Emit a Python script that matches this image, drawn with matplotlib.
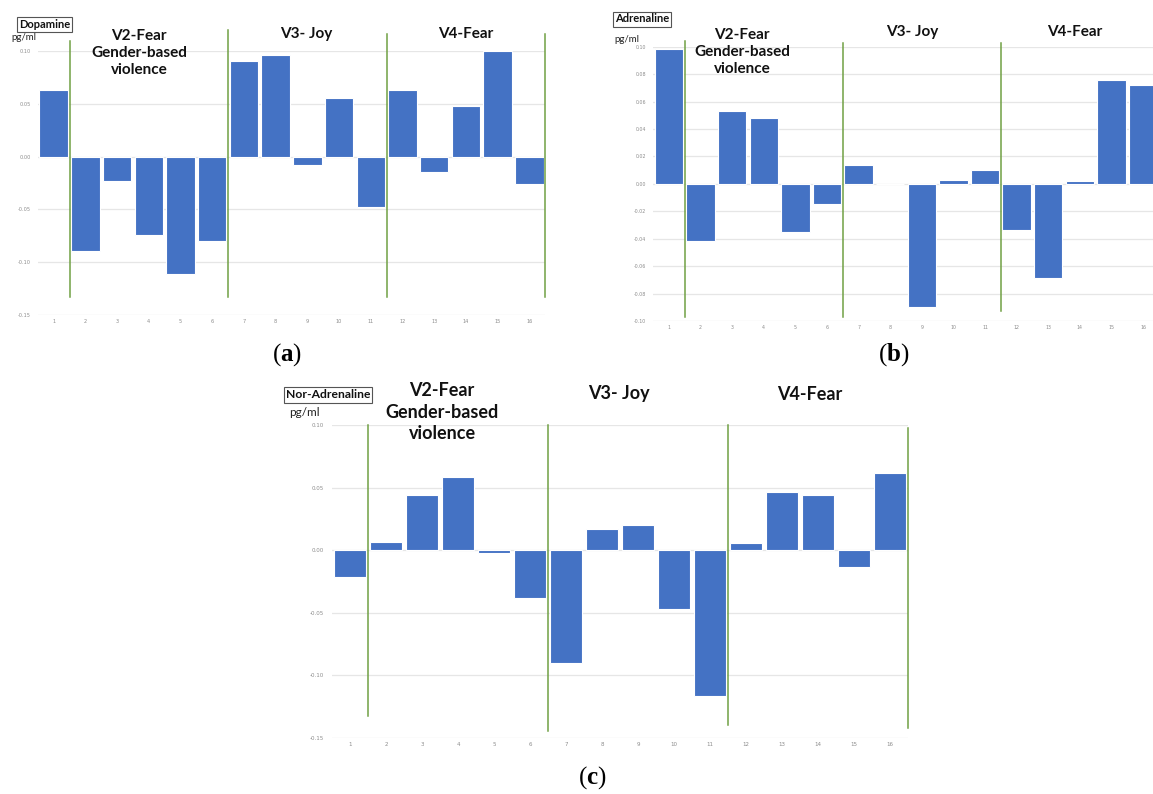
import matplotlib
matplotlib.use("Agg")
import matplotlib.pyplot as plt
import numpy as np

plt.rcParams["mathtext.fontset"] = "custom"
plt.rcParams["mathtext.bf"] = "Liberation Serif:bold"
plt.rcParams["mathtext.rm"] = "Liberation Serif"

W, H = 1153, 794

categories = list(range(1, 17))
dopamine = [0.063, -0.089, -0.023, -0.074, -0.111, -0.080, 0.090, 0.096,
            -0.008, 0.055, -0.048, 0.063, -0.015, 0.048, 0.100, -0.026]
adrenaline = [0.098, -0.042, 0.053, 0.048, -0.035, -0.015, 0.014, 0.0,
              -0.090, 0.003, 0.010, -0.034, -0.069, 0.002, 0.076, 0.072]
noradrenaline = [-0.021, 0.007, 0.044, 0.059, -0.002, -0.038, -0.090, 0.017,
                 0.020, -0.047, -0.117, 0.006, 0.047, 0.044, -0.013, 0.062]

phase_labels = ["V2-Fear\nGender-based\nviolence", "V3- Joy", "V4-Fear"]
sep_x = [1.5, 6.5, 11.5, 16.5]
# separator line extents (bottom, top) per panel
sep_a = [(-0.133, 0.109), (-0.133, 0.120), (-0.133, 0.116), (-0.133, 0.116)]
sep_b = [(-0.097, 0.104), (-0.097, 0.103), (-0.093, 0.103), (-0.093, 0.103)]
sep_c = [(-0.133, 0.100), (-0.145, 0.100), (-0.140, 0.100), (-0.142, 0.098)]

yt_a = [-0.15, -0.10, -0.05, 0.00, 0.05, 0.10]
yt_b = [-0.10, -0.08, -0.06, -0.04, -0.02, 0.00, 0.02, 0.04, 0.06, 0.08, 0.10]
yt_c = [-0.15, -0.10, -0.05, 0.00, 0.05, 0.10]

BAR = "#4472C4"
GREEN = "#70A044"
GRID = "#E6E6E6"
TICK = "#8C8C8C"

fig = plt.figure(figsize=(W / 100, H / 100), dpi=100)
fig.patch.set_facecolor("white")


def rect(x0, y0, x1, y1):
    return [x0 / W, 1 - y1 / H, (x1 - x0) / W, (y1 - y0) / H]


def fx(x, y):
    return x / W, 1 - y / H


def make_panel(box, values, yticks, seps, tickfs, ypad):
    ax = fig.add_axes(box)
    ax.set_facecolor("none")
    ax.bar(categories, values, width=0.9, color=BAR, edgecolor="white",
           linewidth=0.8, zorder=3)
    ax.set_xlim(0.5, 16.5)
    ax.set_ylim(yticks[0], yticks[-1])
    ax.set_yticks(yticks)
    ax.set_yticklabels([f"{t:.2f}" for t in yticks])
    ax.set_xticks(categories)
    ax.set_xticklabels([str(c) for c in categories])
    ax.grid(axis="y", color=GRID, linewidth=0.9, zorder=0)
    ax.set_axisbelow(True)
    for s in ax.spines.values():
        s.set_visible(False)
    ax.tick_params(axis="both", length=0, labelsize=tickfs, colors=TICK)
    ax.tick_params(axis="y", pad=ypad)
    ax.tick_params(axis="x", pad=3)
    for xs, (lo, hi) in zip(sep_x, seps):
        ax.plot([xs, xs], [lo, hi], color=GREEN, linewidth=1.1,
                clip_on=False, zorder=4)
    return ax


# Panel (a)
make_panel(rect(37.8, 50.7, 545.2, 315.3), dopamine, yt_a, sep_a, 3.6, 5)
# Panel (b)
make_panel(rect(653.2, 46.7, 1158.8, 321.0), adrenaline, yt_b, sep_b, 3.4, 5)
# Panel (c)
make_panel(rect(332.0, 425.3, 908.0, 737.7), noradrenaline, yt_c, sep_c, 4.0, 6)

hdr = dict(family="Lato", weight="bold", color="#111111", ha="center",
           va="center")

# headers (a)
fig.text(*fx(139, 53), phase_labels[0], fontsize=11, linespacing=1.3, **hdr)
fig.text(*fx(306, 34), phase_labels[1], fontsize=11, **hdr)
fig.text(*fx(466, 34), phase_labels[2], fontsize=11, **hdr)
# headers (b)
fig.text(*fx(742, 52), phase_labels[0], fontsize=11, linespacing=1.3, **hdr)
fig.text(*fx(912, 32), phase_labels[1], fontsize=11, **hdr)
fig.text(*fx(1075, 32), phase_labels[2], fontsize=11, **hdr)
# headers (c)
fig.text(*fx(442, 412), phase_labels[0], fontsize=13, linespacing=1.3, **hdr)
fig.text(*fx(619, 394), phase_labels[1], fontsize=13, **hdr)
fig.text(*fx(810, 394), phase_labels[2], fontsize=13, **hdr)

box = dict(boxstyle="square,pad=0.18", facecolor="white", edgecolor="#555555",
           linewidth=0.8)
lab = dict(family="Lato", weight="bold", color="#111111", ha="center",
           va="center", bbox=box)
unit = dict(family="Lato", color="#222222", ha="center", va="center")

fig.text(*fx(44.5, 24), "Dopamine", fontsize=8, **lab)
fig.text(*fx(24, 38), "pg/ml", fontsize=7, **unit)
fig.text(*fx(642, 19), "Adrenaline", fontsize=8, **lab)
fig.text(*fx(627, 39), "pg/ml", fontsize=7, **unit)
fig.text(*fx(328, 395), "Nor-Adrenaline", fontsize=8.7, **lab)
fig.text(*fx(304, 412), "pg/ml", fontsize=8.5, **unit)

cap = dict(family="Liberation Serif", fontsize=18, ha="center", va="center",
           color="black")
fig.text(*fx(287, 355), r"($\mathbf{a}$)", **cap)
fig.text(*fx(894, 355), r"($\mathbf{b}$)", **cap)
fig.text(*fx(592, 778), r"($\mathbf{c}$)", **cap)

fig.savefig("out.png", dpi=100, facecolor="white")
